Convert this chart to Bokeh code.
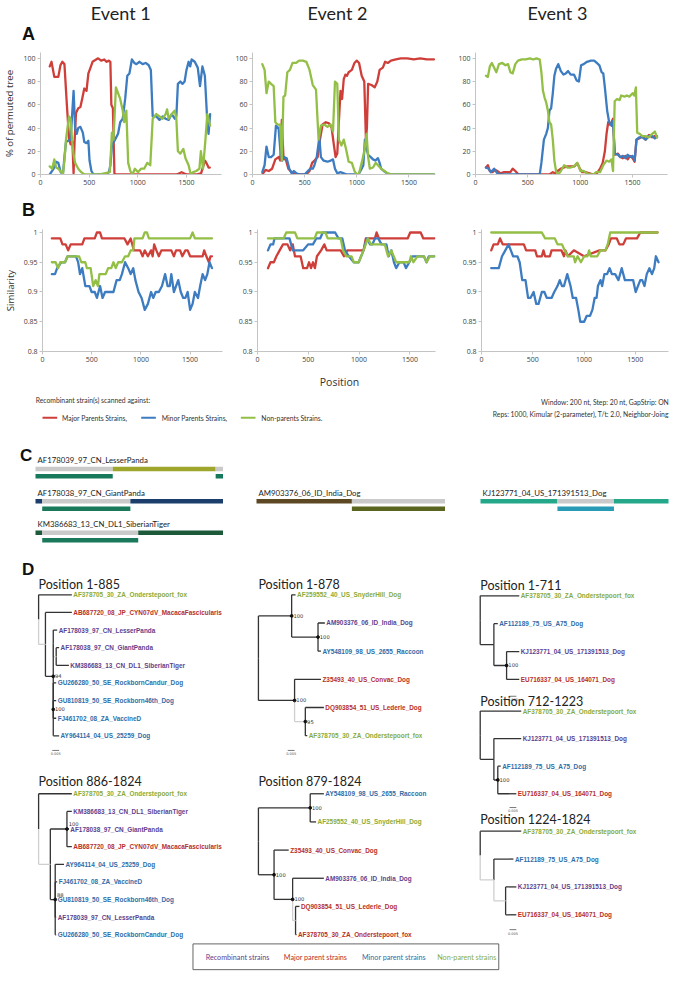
from bokeh.plotting import figure
from bokeh.layouts import column, row
from bokeh.models import Range1d, FixedTicker, CustomJSTickFormatter
from bokeh.embed import file_html
from bokeh.resources import INLINE
from bokeh.core.properties import value

# ---------------------------------------------------------------- data
EVENTS = ["Event 1", "Event 2", "Event 3"]
SERIES_NAMES = ["Major Parents Strains,", "Minor Parents  Strains,", "Non-parents Strains."]
X_TICKS = [0, 500, 1000, 1500]
A_TICKS = [0, 20, 40, 60, 80, 100]
B_TICKS = [0.8, 0.85, 0.9, 0.95, 1.0]

# Panel A : % of permuted trees  (position, value)
A1_MAJOR = [(95,93),(113,97),(142,84),(183,84),(205,94),(224,97),(246,95),(271,60),(293,31),(309,26),(328,28),(340,1),(350,28),(365,53),(388,57),(410,58),(428,65),(450,74),(473,72),(492,87),(514,92),(535,97),(592,100),(624,98),(655,99),(680,97),(703,98),(718,97),(728,60),(744,57),(760,0),(800,0),(900,0),(1000,0),(1100,0),(1200,0),(1300,0),(1400,0),(1450,2),(1500,0),(1600,0),(1650,1),(1690,12),(1705,10),(1727,6),(1740,6)]
A1_MINOR = [(95,0),(135,5),(160,11),(183,10),(208,2),(230,0),(246,15),(262,28),(284,29),(309,30),(324,50),(340,72),(356,40),(372,35),(388,40),(410,41),(435,36),(450,28),(473,27),(492,29),(504,12),(523,3),(545,0),(600,0),(671,0),(703,2),(718,8),(734,25),(766,30),(797,35),(819,45),(845,48),(870,65),(892,85),(914,87),(939,99),(964,96),(986,95),(1018,97),(1049,95),(1081,96),(1112,94),(1134,90),(1153,50),(1191,50),(1223,47),(1254,50),(1286,48),(1317,47),(1349,52),(1380,48),(1396,50),(1412,78),(1437,80),(1459,78),(1481,80),(1500,90),(1522,97),(1538,93),(1553,99),(1585,97),(1616,92),(1639,76),(1664,93),(1689,85),(1711,50),(1727,35),(1743,52)]
A1_NON = [(95,7),(120,5),(142,13),(160,6),(183,5),(214,2),(230,0),(246,12),(262,30),(277,40),(293,50),(309,48),(324,30),(340,17),(356,10),(388,5),(419,2),(450,0),(600,0),(712,2),(724,20),(734,36),(750,30),(775,75),(797,70),(819,65),(845,55),(860,45),(882,55),(901,10),(923,3),(945,0),(970,5),(1002,2),(1033,5),(1065,5),(1097,10),(1128,8),(1153,48),(1191,52),(1223,50),(1254,48),(1286,52),(1301,56),(1317,48),(1349,52),(1380,55),(1396,48),(1412,20),(1437,18),(1468,22),(1490,14),(1522,8),(1544,0),(1569,2),(1601,3),(1633,5),(1648,20),(1670,5),(1695,30),(1714,52),(1743,42)]

A2_MAJOR = [(94,0),(125,4),(156,3),(188,5),(219,13),(250,15),(266,12),(281,47),(297,15),(322,12),(344,5),(375,2),(406,0),(516,0),(547,3),(572,10),(594,12),(625,15),(647,30),(672,43),(703,45),(734,44),(759,40),(781,25),(797,15),(813,18),(828,45),(844,72),(859,65),(875,82),(891,86),(906,85),(922,88),(953,90),(978,96),(1000,98),(1022,96),(1047,85),(1072,80),(1088,30),(1097,40),(1109,78),(1141,77),(1172,75),(1197,80),(1219,90),(1250,92),(1272,97),(1297,96),(1328,98),(1375,99),(1422,100),(1484,100),(1547,99),(1609,100),(1672,99),(1740,99)]
A2_MINOR = [(94,2),(116,8),(134,24),(156,15),(178,15),(203,17),(225,42),(250,40),(266,22),(284,12),(303,15),(328,14),(353,5),(375,1),(397,3),(422,1),(453,0),(500,0),(531,3),(553,5),(578,5),(594,8),(616,15),(641,32),(656,15),(681,12),(719,11),(750,12),(772,13),(791,5),(813,1),(844,2),(875,1),(906,0),(1016,0),(1047,5),(1063,8),(1078,30),(1094,22),(1109,17),(1134,15),(1156,13),(1178,12),(1203,14),(1219,10),(1234,5),(1259,3),(1291,1),(1328,0),(1740,0)]
A2_NON = [(94,95),(116,90),(134,70),(156,80),(178,78),(203,76),(219,45),(241,43),(266,43),(281,12),(297,67),(313,68),(334,88),(359,90),(384,96),(416,96),(447,98),(484,98),(516,97),(547,90),(578,77),(609,73),(625,45),(634,30),(656,42),(688,43),(719,41),(750,43),(772,37),(791,80),(813,78),(828,30),(853,25),(875,30),(897,22),(922,11),(953,10),(978,3),(1000,0),(1022,1),(1047,10),(1072,20),(1094,35),(1109,15),(1125,5),(1156,6),(1181,10),(1203,8),(1234,5),(1266,3),(1297,1),(1344,0),(1740,0)]

A3_MAJOR = [(100,6),(118,8),(137,3),(162,2),(187,4),(208,3),(240,1),(271,2),(302,2),(333,2),(355,5),(380,3),(411,0),(706,0),(738,2),(759,1),(784,3),(815,5),(846,6),(878,7),(903,7),(924,7),(946,7),(971,10),(996,5),(1018,2),(1049,2),(1089,1),(1127,0),(1158,1),(1189,5),(1214,10),(1235,20),(1251,35),(1267,45),(1282,43),(1298,45),(1313,48),(1329,17),(1360,18),(1382,15),(1407,14),(1431,16),(1453,13),(1475,16),(1500,14),(1519,11),(1537,30),(1562,31),(1593,33),(1624,30),(1656,34),(1687,32),(1712,33),(1733,32)]
A3_MINOR = [(100,6),(124,5),(146,2),(177,5),(208,1),(240,0),(613,0),(629,10),(653,30),(675,35),(691,40),(706,55),(722,57),(738,70),(753,85),(769,91),(790,95),(815,89),(840,86),(862,87),(884,89),(909,86),(940,86),(965,81),(987,80),(1008,94),(1033,95),(1064,97),(1102,98),(1133,98),(1158,96),(1183,94),(1204,88),(1220,87),(1235,75),(1257,55),(1276,45),(1298,42),(1313,46),(1329,18),(1360,17),(1382,15),(1407,16),(1431,14),(1453,17),(1475,15),(1500,16),(1519,12),(1537,30),(1562,32),(1593,32),(1624,30),(1656,33),(1687,33),(1712,31),(1733,33)]
A3_NON = [(100,85),(118,84),(137,93),(156,96),(177,92),(199,88),(224,95),(255,96),(286,94),(311,95),(333,88),(355,87),(380,95),(405,98),(442,99),(479,99),(520,100),(551,99),(582,100),(613,99),(629,88),(644,72),(660,66),(675,62),(691,55),(706,45),(722,43),(738,30),(753,12),(769,3),(790,0),(815,3),(846,8),(878,6),(909,6),(940,7),(971,10),(987,7),(1002,3),(1033,3),(1064,1),(1095,0),(1127,0),(1151,2),(1189,2),(1220,8),(1251,12),(1276,11),(1298,13),(1313,3),(1329,63),(1351,65),(1376,64),(1391,68),(1422,67),(1444,68),(1469,67),(1500,70),(1516,68),(1531,75),(1544,36),(1568,35),(1593,33),(1624,33),(1656,32),(1687,35),(1712,37),(1733,32)]

# Panel B : similarity  (position, value)
B1_MAJOR = [(95,0.99),(181,0.99),(203,0.98),(235,0.98),(261,0.97),(286,0.98),(404,0.98),(426,0.99),(531,0.99),(553,1.0),(585,1.0),(604,0.99),(833,0.99),(864,0.98),(896,0.99),(928,0.97),(992,0.97),(1017,0.96),(1039,0.97),(1071,0.96),(1103,0.97),(1119,0.96),(1135,0.98),(1157,0.97),(1182,0.96),(1208,0.97),(1309,0.97),(1335,0.96),(1357,0.97),(1398,0.97),(1421,0.96),(1452,0.97),(1475,0.97),(1500,0.96),(1627,0.96),(1643,0.97),(1665,0.96),(1691,0.95),(1707,0.96),(1722,0.96)]
B1_MINOR = [(95,0.93),(127,0.93),(149,0.94),(191,0.95),(229,0.95),(254,0.96),(308,0.96),(340,0.96),(362,0.95),(381,0.93),(404,0.94),(435,0.91),(477,0.91),(499,0.90),(531,0.90),(553,0.89),(585,0.91),(610,0.89),(636,0.90),(674,0.90),(721,0.90),(753,0.92),(785,0.92),(807,0.93),(839,0.95),(871,0.94),(896,0.93),(922,0.94),(944,0.92),(976,0.90),(1007,0.89),(1039,0.87),(1071,0.88),(1103,0.90),(1125,0.89),(1150,0.90),(1182,0.90),(1214,0.91),(1246,0.93),(1271,0.91),(1293,0.91),(1309,0.93),(1335,0.90),(1357,0.91),(1379,0.92),(1405,0.90),(1430,0.89),(1452,0.89),(1475,0.90),(1500,0.87),(1525,0.88),(1548,0.90),(1580,0.89),(1602,0.91),(1627,0.93),(1652,0.92),(1675,0.93),(1697,0.95),(1722,0.94)]
B1_NON = [(95,0.95),(133,0.95),(159,0.94),(181,0.95),(229,0.95),(254,0.96),(372,0.96),(394,0.95),(435,0.95),(451,0.94),(489,0.94),(515,0.91),(540,0.92),(563,0.91),(578,0.93),(642,0.93),(667,0.94),(699,0.94),(721,0.95),(744,0.94),(769,0.95),(807,0.95),(839,0.96),(871,0.96),(896,0.97),(922,0.97),(934,0.99),(1017,0.99),(1039,1.0),(1061,1.0),(1081,0.99),(1500,0.99),(1525,1.0),(1548,0.99),(1722,0.99)]

B2_MAJOR = [(103,0.94),(128,0.95),(161,0.95),(186,0.96),(218,0.97),(251,0.98),(295,0.98),(321,0.97),(347,0.98),(369,0.96),(424,0.96),(450,0.94),(488,0.94),(507,0.95),(527,0.94),(546,0.95),(565,0.94),(585,0.96),(626,0.97),(658,0.98),(681,0.97),(819,0.97),(851,0.96),(883,0.97),(1044,0.97),(1066,0.99),(1156,0.99),(1172,1.0),(1195,0.99),(1478,0.99),(1503,1.0),(1606,1.0),(1632,0.99),(1741,0.99)]
B2_MINOR = [(103,0.97),(128,0.98),(154,0.98),(167,0.99),(315,0.99),(347,0.97),(450,0.97),(498,0.98),(546,0.98),(578,0.99),(617,0.99),(642,1.0),(764,1.0),(797,0.99),(835,0.99),(861,0.97),(899,0.96),(948,0.95),(996,0.95),(1044,0.97),(1076,0.99),(1108,0.98),(1131,0.98),(1156,0.99),(1188,0.99),(1221,0.98),(1269,0.98),(1291,0.96),(1317,0.97),(1343,0.95),(1365,0.94),(1397,0.95),(1439,0.95),(1461,0.94),(1494,0.95),(1526,0.96),(1574,0.96),(1638,0.96),(1664,0.95),(1686,0.96),(1741,0.96)]
B2_NON = [(103,0.99),(257,0.99),(283,1.0),(369,1.0),(392,0.99),(562,0.99),(585,1.0),(668,1.0),(691,0.99),(819,0.99),(842,0.97),(874,0.96),(925,0.96),(948,0.95),(996,0.95),(1044,0.97),(1086,0.99),(1118,0.98),(1156,0.98),(1253,0.98),(1285,0.96),(1317,0.97),(1365,0.95),(1494,0.95),(1510,0.96),(1535,0.95),(1574,0.96),(1638,0.96),(1664,0.95),(1696,0.96),(1741,0.96)]

B3_MAJOR = [(95,0.97),(118,0.98),(159,0.98),(181,0.99),(207,0.98),(413,0.98),(435,0.97),(524,0.97),(540,0.96),(588,0.96),(604,0.97),(620,0.96),(667,0.96),(683,0.97),(779,0.97),(804,0.96),(817,0.97),(842,0.96),(900,0.97),(1000,0.96),(1150,0.97),(1208,0.97),(1240,0.98),(1262,0.99),(1319,0.99),(1344,0.98),(1382,0.98),(1408,0.99),(1516,0.99),(1548,1.0),(1716,1.0)]
B3_MINOR = [(95,0.94),(168,0.94),(200,0.96),(232,0.97),(264,0.98),(286,0.97),(308,0.96),(350,0.96),(372,0.95),(397,0.92),(429,0.92),(454,0.89),(477,0.89),(508,0.90),(534,0.88),(556,0.88),(588,0.90),(613,0.90),(636,0.89),(683,0.89),(709,0.90),(741,0.91),(763,0.92),(785,0.91),(804,0.91),(836,0.93),(868,0.91),(890,0.89),(922,0.89),(944,0.87),(963,0.85),(1001,0.85),(1026,0.86),(1058,0.86),(1081,0.87),(1103,0.89),(1122,0.89),(1135,0.91),(1160,0.92),(1176,0.91),(1198,0.93),(1224,0.93),(1249,0.94),(1271,0.93),(1303,0.93),(1335,0.92),(1367,0.94),(1398,0.92),(1446,0.92),(1478,0.92),(1503,0.90),(1525,0.91),(1548,0.92),(1567,0.92),(1589,0.91),(1611,0.93),(1637,0.94),(1662,0.93),(1684,0.94),(1700,0.96),(1726,0.95)]
B3_NON = [(95,1.0),(588,1.0),(620,0.99),(715,0.99),(741,0.98),(785,0.98),(810,0.97),(842,0.96),(899,0.96),(912,0.95),(937,0.96),(969,0.95),(1001,0.96),(1033,0.96),(1049,0.97),(1065,0.96),(1128,0.96),(1160,0.97),(1208,0.97),(1230,0.98),(1255,1.0),(1716,1.0)]

# Panel C : query strains and coloured genome segments (nt)
SEQ_LEN = 1824
C_STRAINS = ["AF178039_97_CN_LesserPanda", "AF178038_97_CN_GiantPanda",
             "KM386683_13_CN_DL1_SiberianTiger", "AM903376_06_ID_India_Dog",
             "KJ123771_04_US_171391513_Dog"]
C_EVENT = [0, 0, 0, 1, 2]
C_SLOT = [0, 1, 2, 1, 1]
C_TOP = [
    [(1, 750, "#cacaca"), (750, 1748, "#9ea72c"), (1748, 1824, "#cacaca")],
    [(1, 66, "#1b3e6c"), (66, 921, "#cacaca"), (921, 1824, "#1b3e6c")],
    [(1, 66, "#1c5a3b"), (66, 997, "#cacaca"), (997, 1824, "#1c5a3b")],
    [(1, 921, "#5c4822"), (921, 1824, "#cacaca")],
    [(1, 747, "#25a88a"), (747, 1295, "#cacaca"), (1295, 1824, "#25a88a")],
]
C_BOTTOM = [
    [(1, 750, "#16795c"), (1748, 1824, "#16795c")],
    [(66, 921, "#19795a")],
    [(66, 997, "#19795a")],
    [(921, 1824, "#5a651f")],
    [(747, 1295, "#2a9bb6")],
]

# Panel D : neighbour-joining trees (branch lengths, 7 units = 0.005 subst./site)
TREE_TITLES = ["Position 1-885", "Position 886-1824", "Position 1-878", "Position 879-1824",
               "Position 1-711", "Position 712-1223", "Position 1224-1824"]
TREE_NEWICK = [
    "(AF378705_30_ZA_Onderstepoort_fox:34,(AB687720_08_JP_CYN07dV_MacacaFascicularis:27,((AF178039_97_CN_LesserPanda:4,(AF178038_97_CN_GiantPanda:3,KM386683_13_CN_DL1_SiberianTiger:13)g:3):0,(GU266280_50_SE_RockbornCandur_Dog:3,GU810819_50_SE_Rockborn46th_Dog:3,FJ461702_08_ZA_VaccineD:3,AY964114_04_US_25259_Dog:6)100:0)94:8)g:7);",
    "(AF378705_30_ZA_Onderstepoort_fox:34,((KM386683_13_CN_DL1_SiberianTiger:5,AF178038_97_CN_GiantPanda:2,AB687720_08_JP_CYN07dV_MacacaFascicularis:5)100:17,(AY964114_04_US_25259_Dog:9,FJ461702_08_ZA_VaccineD:2,GU810819_50_SE_Rockborn46th_Dog:1,AF178039_97_CN_LesserPanda:1,GU266280_50_SE_RockbornCandur_Dog:1)88:5)g:12);",
    "((AF259552_40_US_SnyderHill_Dog:4,(AM903376_06_ID_India_Dog:7,AY548109_98_US_2655_Raccoon:3)100:27)100:34,(Z35493_40_US_Convac_Dog:27,(DQ903854_51_US_Lederle_Dog:19,AF378705_30_ZA_Onderstepoort_fox:2)95g:11)100:37);",
    "((AY548109_98_US_2655_Raccoon:14,AF259552_40_US_SnyderHill_Dog:6)100:53,(Z35493_40_US_Convac_Dog:15,(AM903376_06_ID_India_Dog:32,(DQ903854_51_US_Lederle_Dog:4,AF378705_30_ZA_Onderstepoort_fox:1)g:3)100:19)100:16);",
    "(AF378705_30_ZA_Onderstepoort_fox:40,(AF112189_75_US_A75_Dog:4,(KJ123771_04_US_171391513_Dog:13,EU716337_04_US_164071_Dog:13)100:13):14);",
    "(AF378705_30_ZA_Onderstepoort_fox:42,(KJ123771_04_US_171391513_Dog:28,(AF112189_75_US_A75_Dog:3,EU716337_04_US_164071_Dog:19)100:4):14);",
    "(AF378705_30_ZA_Onderstepoort_fox:42,(AF112189_75_US_A75_Dog:20,(KJ123771_04_US_171391513_Dog:11,EU716337_04_US_164071_Dog:11)g:12)g:14);",
]
# leaf roles: r = recombinant, M = major parent, m = minor parent, n = non-parent
TREE_ROLES = ["nMrrrmmmm", "nrrMmmmrm", "nrmMMn", "mnMrMM", "nmrM", "nrmM", "nmrM"]
LEGEND_ROLES = ["Recombinant strains", "Major parent strains", "Minor parent strains", "Non-parent strains"]

# ---------------------------------------------------------------- style
RED, BLUE, GREEN = "#cf3f3a", "#3d7cc1", "#93bf46"
ROLE_COL = {"r": "#5d3f8e", "M": "#b5302c", "m": "#2f6da8", "n": "#8aab38"}
DARK, LIGHT = "#333333", "#cfcfcf"
SX = 0.977          # horizontal page scale (reference px -> page px)
W = 669
COLW = [223, 222, 224]
COLX = [0, 223, 445]
DCOLW = [234, 211, 224]
DCOLX = [0, 234, 445]


def canvas(w, h, ry, rx):
    p = figure(width=w, height=h, x_range=Range1d(*rx), y_range=Range1d(ry[1], ry[0]),
               output_backend="svg", toolbar_location=None, title=None, min_border=0,
               x_axis_type=None, y_axis_type=None)
    p.outline_line_color = None
    return p


def col_canvas(x0px, w, h, ry):
    x0 = x0px / SX
    return canvas(w, h, ry, (x0, x0 + w / SX))


def txt(p, x, y, s, size, color="#222222", font="Lato", align="left", style="normal", baseline="middle"):
    p.text(x=[x], y=[y], text=[s], text_font=value(font), text_font_size=size, text_color=color,
           text_align=align, text_baseline=baseline, text_font_style=style)


def chart(i, series, xend, yr, yticks, left, right, bottom, h, ylabel=None, bfmt=False):
    p = figure(width=COLW[i], height=h, x_range=Range1d(0, xend), y_range=Range1d(*yr),
               output_backend="svg", toolbar_location=None, title=None,
               min_border_left=left, min_border_right=right, min_border_top=3, min_border_bottom=bottom)
    p.grid.visible = False
    p.outline_line_color = None
    p.xaxis.ticker = FixedTicker(ticks=X_TICKS)
    p.yaxis.ticker = FixedTicker(ticks=yticks)
    if bfmt:
        p.yaxis.formatter = CustomJSTickFormatter(code="return Number(tick.toFixed(2)).toString();")
    for ax in p.xaxis + p.yaxis:
        ax.axis_line_color = "#c4c4c4"
        ax.major_tick_line_color = "#c4c4c4"
        ax.minor_tick_line_color = None
        ax.major_tick_out = 3
        ax.major_tick_in = 0
        ax.major_label_standoff = 2
        ax.major_label_text_font = "Open Sans"
        ax.major_label_text_font_size = "7px"
        ax.major_label_text_color = "#404040"
    if ylabel:
        p.yaxis.axis_label = ylabel
        p.yaxis.axis_label_text_font = "Open Sans"
        p.yaxis.axis_label_text_font_size = "9.6px"
        p.yaxis.axis_label_text_font_style = "normal"
        p.yaxis.axis_label_text_color = "#333333"
        p.yaxis.axis_label_standoff = 4
    for pts, col in zip(series, [RED, BLUE, GREEN]):
        p.line([a for a, b in pts], [b for a, b in pts], line_color=col, line_width=2.3,
               line_join="round", line_cap="round")
    return p


# ---------------------------------------------------------------- header A
hdrA = canvas(W, 49, (0, 50), (0, W / SX))
for x, t in zip([123, 345, 570], EVENTS):
    txt(hdrA, x, 13, t, "18px", "#222222", "Lato", "center")
txt(hdrA, 22, 34, "A", "18px", "#111111", "Liberation Sans", "left", "bold")

A_SERIES = [(A1_MAJOR, A1_MINOR, A1_NON), (A2_MAJOR, A2_MINOR, A2_NON), (A3_MAJOR, A3_MINOR, A3_NON)]
B_SERIES = [(B1_MAJOR, B1_MINOR, B1_NON), (B2_MAJOR, B2_MINOR, B2_NON), (B3_MAJOR, B3_MINOR, B3_NON)]
a_figs = [chart(0, A_SERIES[0], 1860, (0, 105), A_TICKS, 31, 2, 19, 144, "% of permuted tree"),
          chart(1, A_SERIES[1], 1755, (0, 105), A_TICKS, 29, 10, 19, 144),
          chart(2, A_SERIES[2], 1833, (0, 105), A_TICKS, 30, 2, 19, 144)]

hdrB = canvas(W, 33, (196, 230), (0, W / SX))
txt(hdrB, 22, 213, "B", "18px", "#111111", "Liberation Sans", "left", "bold")

b_figs = [chart(0, B_SERIES[0], 1829, (0.8, 1.005), B_TICKS, 35, 1, 20, 145, "Similarity", True),
          chart(1, B_SERIES[1], 1752, (0.8, 1.005), B_TICKS, 34, 10, 20, 145, None, True),
          chart(2, B_SERIES[2], 1823, (0.8, 1.005), B_TICKS, 36, 1, 20, 145, None, True)]

# ---------------------------------------------------------------- notes / legend
notes = canvas(W, 62, (377, 440), (0, W / SX))
txt(notes, 347, 388, "Position", "10.5px", "#333333", "Open Sans", "center")
txt(notes, 36, 406, "Recombinant strain(s) scanned against:", "6.8px", "#333333")
for (x0, tx), col, name in zip([(43, 63), (144, 165), (246, 267)], [RED, BLUE, GREEN], SERIES_NAMES):
    notes.segment(x0=[x0], y0=[424], x1=[x0 + 15], y1=[424], line_color=col, line_width=2)
    txt(notes, tx, 424, name, "6.8px", "#333333")
txt(notes, 684, 408, "Window: 200 nt, Step: 20 nt, GapStrip: ON", "6.8px", "#333333", align="right")
txt(notes, 684, 420, "Reps: 1000, Kimular (2-parameter), T/t: 2.0, Neighbor-Joing", "6.8px", "#333333", align="right")

# ---------------------------------------------------------------- panel C
C_BAR_PX = [(35, 223), (33, 222), (35, 223)]
SLOT_Y = [467, 500, 532]
c_figs = []
for i in range(3):
    l, r = C_BAR_PX[i]
    s = (SEQ_LEN - 1) / (r - l)
    p = canvas(COLW[i], 118, (440, 560), (1 - l * s, SEQ_LEN + (COLW[i] - r) * s))
    if i == 0:
        txt(p, 1 - l * s + 19.5 * s, 462, "C", "17px", "#111111", "Liberation Sans", "left", "bold")
    for k, name in enumerate(C_STRAINS):
        if C_EVENT[k] != i:
            continue
        y = SLOT_Y[C_SLOT[k]]
        txt(p, 1 + 2 * s, y, name, "7.8px", "#222222")
        for segs, dy in ((C_TOP[k], 9), (C_BOTTOM[k], 16.5)):
            p.hbar(y=[y + dy] * len(segs), left=[a for a, b, c in segs], right=[b for a, b, c in segs],
                   height=4.6, fill_color=[c for a, b, c in segs], line_color=None)
    c_figs.append(p)


# ---------------------------------------------------------------- panel D
def parse_newick(s):
    pos = [0]

    def node():
        ch = []
        if s[pos[0]] == "(":
            pos[0] += 1
            while True:
                ch.append(node())
                c = s[pos[0]]
                pos[0] += 1
                if c == ")":
                    break
        st = pos[0]
        while s[pos[0]] not in ":,);":
            pos[0] += 1
        label = s[st:pos[0]]
        length = 0.0
        if s[pos[0]] == ":":
            pos[0] += 1
            st = pos[0]
            while s[pos[0]] not in ",);":
                pos[0] += 1
            length = float(s[st:pos[0]])
        return {"label": label, "len": length, "ch": ch}
    return node()


def draw_tree(p, newick, roles, root_x, y0, dy):
    root = parse_newick(newick)
    cnt = [0]
    seg = {"x0": [], "y0": [], "x1": [], "y1": [], "c": []}
    leaves = {"x": [], "y": [], "t": [], "c": []}
    sup = {"x": [], "y": [], "t": [], "ty": []}

    def walk(n, xs):
        x = xs + n["len"]
        n["x"] = x
        if not n["ch"]:
            y = y0 + cnt[0] * dy
            leaves["x"].append(x + 1.5)
            leaves["y"].append(y)
            leaves["t"].append(n["label"])
            leaves["c"].append(ROLE_COL[roles[cnt[0]]])
            cnt[0] += 1
            n["y"] = y
            return
        for c in n["ch"]:
            walk(c, x)
        n["y"] = (n["ch"][0]["y"] + n["ch"][-1]["y"]) / 2
        for c in n["ch"]:
            col = LIGHT if (c["ch"] and c["label"].endswith("g")) else DARK
            for a, b, cc, d in ((x, n["y"], x, c["y"]), (x, c["y"], c["x"], c["y"])):
                seg["x0"].append(a); seg["y0"].append(b); seg["x1"].append(cc); seg["y1"].append(d)
                seg["c"].append(col)
        lab = n["label"].rstrip("g")
        if lab.isdigit():
            # lift the support value when a child branch runs through the node's height
            clash = any(abs(c["y"] - n["y"]) < 3 for c in n["ch"])
            sup["x"].append(x); sup["y"].append(n["y"]); sup["t"].append(lab)
            sup["ty"].append(n["y"] - 5 if clash else n["y"])

    walk(root, root_x)
    p.segment(x0=seg["x0"], y0=seg["y0"], x1=seg["x1"], y1=seg["y1"], line_color=seg["c"], line_width=1.3)
    p.scatter(sup["x"], sup["y"], size=2.8, color="#111111")
    p.text(x=[v + 1.8 for v in sup["x"]], y=sup["ty"], text=sup["t"], text_font=value("DejaVu Sans"),
           text_font_size="5.2px", text_color="#333333", text_baseline="middle")
    p.text(x=leaves["x"], y=leaves["y"], text=leaves["t"], text_font=value("Liberation Sans"),
           text_font_size="6.4px", text_font_style="bold", text_color=leaves["c"], text_baseline="middle")


# layout of the trees: column, root x, title y, first leaf y, leaf spacing, scale-bar y
TREE_POS = [(0, 39, 594, 604, 17.9, 762), (0, 39, 794, 806, 17.9, None),
            (1, 264, 594, 604, 28.6, 762), (1, 264, 794, 806, 28.6, None),
            (2, 491, 595, 605, 28.3, 707), (2, 491, 712, 722, 28.0, 820), (2, 491, 832, 844, 28.3, 944)]
d_figs = [col_canvas(DCOLX[i], DCOLW[i], 389, (560, 955)) for i in range(3)]
txt(d_figs[0], 22, 578, "D", "17px", "#111111", "Liberation Sans", "left", "bold")
for k in range(len(TREE_TITLES)):
    ci, rx, ty, ly, dy, sy = TREE_POS[k]
    p = d_figs[ci]
    txt(p, rx, ty, TREE_TITLES[k], "12.5px", "#222222", "Lato")
    draw_tree(p, TREE_NEWICK[k], TREE_ROLES[k], rx, ly, dy)
    if sy is not None:
        sx0 = rx + (14 if ci == 0 else 30)
        p.segment(x0=[sx0], y0=[sy], x1=[sx0 + 7], y1=[sy], line_color="#555555", line_width=0.8)
        txt(p, sx0 + 3.5, sy + 3.5, "0.005", "3.5px", "#555555", "DejaVu Sans", "center")

# ---------------------------------------------------------------- bottom legend
leg = canvas(W, 34, (955, 990), (0, W / SX))
leg.quad(left=[197], right=[510], top=[958.5], bottom=[985], fill_color=None, line_color="#555555", line_width=0.9)
for x, t, rl in zip([210, 290, 370, 447], LEGEND_ROLES, ["r", "M", "m", "n"]):
    txt(leg, x, 972, t, "7.2px", ROLE_COL[rl], "Lato")

layout = column(hdrA, row(*a_figs), hdrB, row(*b_figs), notes, row(*c_figs), row(*d_figs), leg)
open("out.html", "w").write(file_html(layout, INLINE))
